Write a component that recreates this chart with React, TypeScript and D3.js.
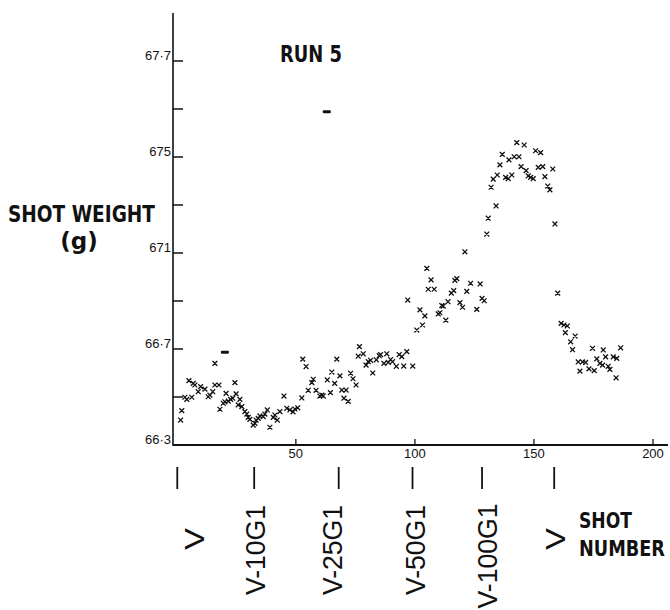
import React from "react";
import * as d3 from "d3";

const shotNumbers = [
  1.6, 2.1, 3.4, 4.2, 5.1, 6.3, 6.9, 7.6, 9.0, 10.0,
  11.8, 13.2, 13.9, 15.1, 16.0, 16.0, 17.7, 18.1, 19.5, 20.2,
  20.7, 21.6, 22.6, 23.5, 24.4, 24.9, 25.8, 26.5, 27.3, 28.6,
  29.4, 30.0, 30.7, 32.1, 32.8, 33.3, 34.2, 34.9, 36.3, 37.0,
  38.0, 39.1, 40.5, 41.2, 42.2, 43.3, 45.0, 46.2, 47.5, 48.8,
  49.6, 50.8, 52.5, 52.9, 54.3, 55.2, 56.7, 57.3, 58.5, 60.1,
  60.9, 61.5, 63.2, 64.5, 65.1, 66.3, 67.2, 68.5, 69.3, 71.1,
  70.2, 72.0, 73.0, 74.0, 75.3, 76.7, 76.2, 78.3, 79.5, 80.4,
  81.4, 82.3, 83.8, 85.0, 85.6, 87.0, 88.2, 88.8, 89.8, 90.6,
  92.2, 93.4, 94.5, 95.3, 96.6, 99.1, 97.0, 100.8, 103.2, 102.1,
  104.2, 105.0, 106.8, 105.6, 108.1, 109.8, 110.5, 111.3, 111.9, 113.0,
  113.9, 115.3, 116.3, 116.8, 117.6, 118.9, 120.0, 121.0, 121.8, 123.4,
  127.4, 126.0, 128.2, 129.1, 130.2, 130.8, 132.0, 132.9, 134.1, 134.6,
  135.7, 136.7, 138.1, 139.2, 139.5, 140.7, 141.7, 142.8, 143.7, 144.6,
  145.9, 146.7, 147.6, 148.6, 149.7, 150.7, 151.8, 152.8, 153.7, 154.6,
  155.8, 156.7, 157.9, 158.8, 160.0, 161.4, 162.6, 164.0, 163.2, 167.3,
  165.4, 166.2, 168.6, 170.4, 171.7, 169.3, 173.1, 174.6, 175.3, 176.4,
  177.7, 178.8, 179.1, 180.1, 181.2, 181.9, 183.3, 184.8, 184.5, 186.4,
];

const shotWeights = [
  66.404, 66.443, 66.499, 66.49, 66.568, 66.499, 66.557, 66.55, 66.522, 66.543,
  66.533, 66.501, 66.508, 66.522, 66.64, 66.55, 66.55, 66.449, 66.474, 66.48,
  66.515, 66.483, 66.49, 66.495, 66.56, 66.513, 66.467, 66.49, 66.46, 66.439,
  66.429, 66.415, 66.407, 66.383, 66.39, 66.404, 66.411, 66.421, 66.418, 66.429,
  66.446, 66.374, 66.415, 66.425, 66.404, 66.439, 66.504, 66.453, 66.446, 66.438,
  66.45, 66.455, 66.496, 66.658, 66.627, 66.528, 66.56, 66.574, 66.528, 66.504,
  66.508, 66.504, 66.571, 66.518, 66.604, 66.557, 66.658, 66.588, 66.529, 66.529,
  66.495, 66.482, 66.599, 66.576, 66.55, 66.71, 66.67, 66.68, 66.633, 66.647,
  66.653, 66.6, 66.655, 66.672, 66.677, 66.64, 66.68, 66.644, 66.656, 66.647,
  66.628, 66.677, 66.668, 66.629, 66.689, 66.629, 66.904, 66.779, 66.8, 66.863,
  66.838, 67.036, 66.988, 66.949, 66.949, 66.846, 66.851, 66.881, 66.879, 66.82,
  66.897, 66.933, 66.943, 66.986, 66.993, 66.893, 66.874, 67.105, 66.94, 66.974,
  66.971, 66.865, 66.911, 66.901, 67.179, 67.245, 67.374, 67.408, 67.296, 67.425,
  67.467, 67.511, 67.415, 67.41, 67.488, 67.425, 67.501, 67.56, 67.501, 67.46,
  67.55, 67.443, 67.421, 67.415, 67.41, 67.526, 67.457, 67.518, 67.46, 67.418,
  67.379, 67.363, 67.45, 67.221, 66.933, 66.807, 66.8, 66.796, 66.768, 66.754,
  66.73, 66.697, 66.646, 66.646, 66.644, 66.608, 66.617, 66.703, 66.61, 66.659,
  66.64, 66.633, 66.696, 66.667, 66.628, 66.615, 66.667, 66.661, 66.58, 66.705,
];

// two blotted marks drawn as short dashes
const dashShots = [20.2, 63.0];
const dashWeights = [66.686, 67.689];

const yTickValues = [66.3, 66.7, 67.1, 67.5, 67.9];
const yTickLabels = ["66·3", "66·7", "671", "675", "67·7"];
const yMinorTicks = [66.5, 66.9, 67.3, 67.7];
const xTickValues = [50, 100, 150, 200];

const markerShots = [0.2, 32.5, 68, 99, 128.2, 158.5];
const markerLabelShots = [7.2, 32.8, 65.2, 100, 130.3, 158.9];
const markerLabels = ["V", "V-10G1", "V-25G1", "V-50G1", "V-100G1", "V"];

export default function App() {
  const W = 670;
  const H = 610;
  const x = d3.scaleLinear().domain([0, 200]).range([176.8, 653]);
  const y = d3.scaleLinear().domain([66.3, 67.9]).range([445, 61]);
  const axisX = 173;
  const axisY = y(66.3);
  const ink = "#111";

  const xPath = (cx: number, cy: number) =>
    `M${cx - 2.4},${cy - 2.4}L${cx + 2.4},${cy + 2.4}M${cx + 2.4},${cy - 2.4}L${cx - 2.4},${cy + 2.4}`;

  const labelLen = (s: string) => (s.length === 1 ? 22 : s.length * 15);

  return (
    <svg
      width={W}
      height={H}
      style={{ position: "absolute", left: 0, top: 0, background: "#fff" }}
    >
      <rect x={0} y={0} width={W} height={H} fill="#fff" />
      {/* y axis */}
      <line x1={axisX} y1={13} x2={axisX} y2={axisY + 1} stroke={ink} strokeWidth={1.6} />
      {/* x axis */}
      <line x1={axisX} y1={axisY} x2={668} y2={axisY} stroke={ink} strokeWidth={2} />
      {yTickValues.concat(yMinorTicks).filter((v) => v !== 66.3).map((v, i) => (
        <line key={"yt" + i} x1={axisX} x2={axisX + 10} y1={y(v)} y2={y(v)} stroke={ink} strokeWidth={1.5} />
      ))}
      {yTickValues.map((v, i) => (
        <text
          key={"yl" + i}
          x={axisX - 2}
          y={y(v) - 1}
          textAnchor="end"
          fontFamily="Liberation Sans, Arial, sans-serif"
          fontSize={13}
          fill={ink}
        >
          {yTickLabels[i]}
        </text>
      ))}
      {xTickValues.map((v, i) => (
        <g key={"xt" + i}>
          <line x1={x(v)} x2={x(v)} y1={axisY - 6} y2={axisY} stroke={ink} strokeWidth={1.3} />
          <text
            x={x(v)}
            y={axisY + 13}
            textAnchor="middle"
            fontFamily="Liberation Sans, Arial, sans-serif"
            fontSize={13}
            fill={ink}
          >
            {v}
          </text>
        </g>
      ))}
      {/* data */}
      <path
        d={shotNumbers.map((s, i) => xPath(x(s), y(shotWeights[i]))).join("")}
        stroke={ink}
        strokeWidth={1.3}
        fill="none"
      />
      {dashShots.map((s, i) => (
        <rect key={"d" + i} x={x(s) - 4} y={y(dashWeights[i]) - 1.5} width={8} height={3} rx={1} fill={ink} />
      ))}
      {/* markers below axis */}
      {markerShots.map((s, i) => (
        <line key={"ml" + i} x1={x(s)} x2={x(s)} y1={467} y2={489} stroke={ink} strokeWidth={1.8} />
      ))}
      {markerLabels.map((lab, i) => {
        const cx = x(markerLabelShots[i]);
        const cy = lab.length === 1 ? 539 : lab.length > 6 ? 556 : 550;
        return (
          <text
            key={"mt" + i}
            transform={`translate(${cx},${cy}) rotate(-90)`}
            dy="0.36em"
            textAnchor="middle"
            fontFamily="Liberation Sans, Arial, sans-serif"
            fontSize={27}
            textLength={labelLen(lab)}
            lengthAdjust="spacingAndGlyphs"
            fill={ink}
          >
            {lab}
          </text>
        );
      })}
      {/* titles */}
      <text x={280} y={62} fontFamily="DejaVu Sans, sans-serif" fontWeight="bold" fontSize={23}
        textLength={62} lengthAdjust="spacingAndGlyphs" fill={ink}>RUN 5</text>
      <text x={8} y={222} fontFamily="DejaVu Sans, sans-serif" fontWeight="bold" fontSize={23}
        textLength={147} lengthAdjust="spacingAndGlyphs" fill={ink}>SHOT WEIGHT</text>
      <text x={79} y={249} textAnchor="middle" fontFamily="DejaVu Sans, sans-serif" fontWeight="bold" fontSize={23}
        fill={ink}>(g)</text>
      <text transform="translate(579,528) scale(1,1.2)" fontFamily="DejaVu Sans, sans-serif" fontWeight="bold" fontSize={18}
        textLength={53} lengthAdjust="spacingAndGlyphs" fill={ink}>SHOT</text>
      <text transform="translate(579,556) scale(1,1.2)" fontFamily="DejaVu Sans, sans-serif" fontWeight="bold" fontSize={18}
        textLength={86} lengthAdjust="spacingAndGlyphs" fill={ink}>NUMBER</text>
    </svg>
  );
}
